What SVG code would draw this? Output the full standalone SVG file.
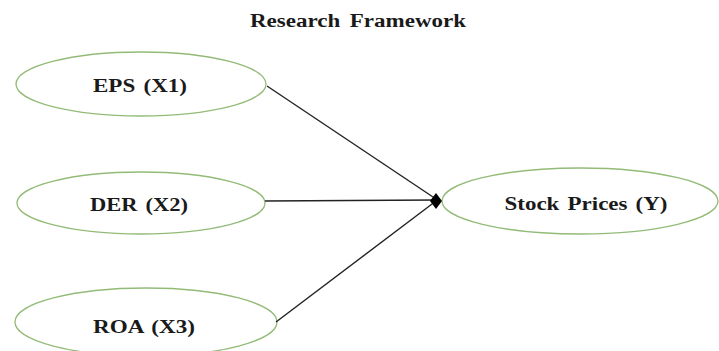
<svg xmlns="http://www.w3.org/2000/svg" width="719" height="351" viewBox="0 0 719 351">
<defs>
<style>
.node ellipse{fill:#ffffff;stroke:#93bb78;stroke-width:1.3}
.lbl{font-family:"Liberation Serif","Times New Roman",serif;font-weight:bold;font-size:19px;fill:#1a1a1a;text-anchor:middle;word-spacing:2px}
.title{font-family:"Liberation Serif","Times New Roman",serif;font-weight:bold;font-size:18px;fill:#1a1a1a;text-anchor:middle;word-spacing:3px}
.conn line{stroke:#222;stroke-width:1.4}
</style>
<marker id="dia" viewBox="0 0 12 16" refX="6" refY="8" markerWidth="12" markerHeight="16" markerUnits="userSpaceOnUse" orient="0">
<path d="M0,8 L6,0 L12,8 L6,16 Z" fill="#000"/>
</marker>
</defs>
<rect width="719" height="351" fill="#fff"/>
<text class="title" x="358" y="27" textLength="216" lengthAdjust="spacingAndGlyphs">Research Framework</text>
<g id="n-eps" class="node"><ellipse cx="141" cy="84" rx="125" ry="32"/><text class="lbl" x="140" y="92" textLength="94" lengthAdjust="spacingAndGlyphs">EPS (X1)</text></g>
<g id="n-der" class="node"><ellipse cx="141" cy="203" rx="124" ry="31"/><text class="lbl" x="139" y="211" textLength="98" lengthAdjust="spacingAndGlyphs">DER (X2)</text></g>
<g id="n-roa" class="node"><ellipse cx="146" cy="322" rx="131" ry="34"/><text class="lbl" x="144" y="333" textLength="102" lengthAdjust="spacingAndGlyphs">ROA (X3)</text></g>
<g id="n-stock" class="node"><ellipse cx="580" cy="201" rx="138" ry="33"/><text class="lbl" x="586" y="210" textLength="163" lengthAdjust="spacingAndGlyphs">Stock Prices (Y)</text></g>
<g id="connectors" class="conn">
<line x1="267" y1="86" x2="436" y2="199"/>
<line x1="265" y1="201" x2="436" y2="200"/>
<line x1="276" y1="322" x2="436" y2="201" marker-end="url(#dia)"/>
</g>
</svg>
